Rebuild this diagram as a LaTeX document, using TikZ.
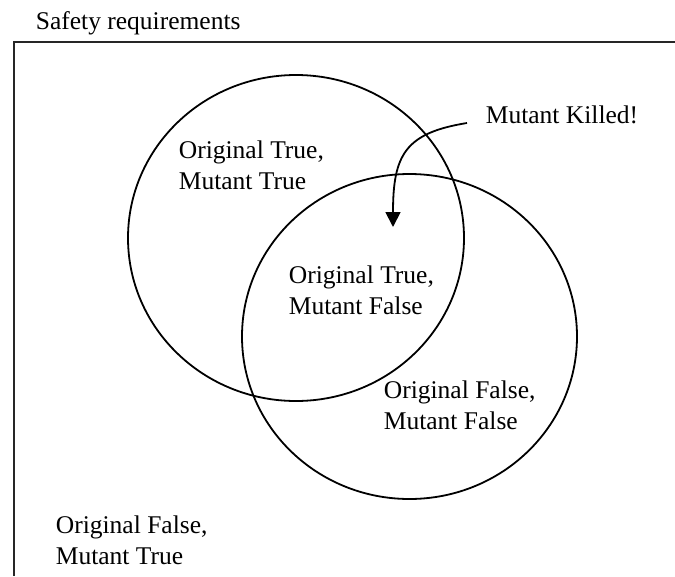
\documentclass[tikz,border=0pt]{standalone}
\usepackage{fontspec}
\setmainfont{Liberation Serif}
\usepackage{tikz}
\usetikzlibrary{arrows.meta}
\usepackage{xcolor}

\begin{document}
\begin{tikzpicture}[x=1pt, y=-1pt, >={Triangle[length=15pt,width=15pt]},
  region/.style={anchor=north west, inner sep=0pt, align=left,
    font=\fontsize{25.5}{30.5}\selectfont},
  line width=1.8pt]
\useasboundingbox (0,0) rectangle (675,576);
% frame of the safety requirements, cut by the page
\draw[black!85, line width=2.2pt] (14,576) -- (14,42) -- (675,42);
\node[region, anchor=base west] (title) at (35,29) {Safety requirements};
% the two sets
\draw (296,238) ellipse [x radius=168pt, y radius=163pt];
\draw (409.5,336.5) ellipse [x radius=167.5pt, y radius=162.5pt];
\node[region] (tt) at (178,140) {Original True,\\Mutant True};
\node[region] (tf) at (288,265) {Original True,\\Mutant False};
\node[region] (ff) at (383,380) {Original False,\\Mutant False};
\node[region] (ft) at (55,515) {Original False,\\Mutant True};
\node[region, anchor=base west] (killed) at (485,123) {Mutant Killed!};
\coordinate (tip) at (393,227);
\draw[->] ([xshift=-18pt]killed.base west) .. controls (405,133) and (393,155) .. (tip);
\end{tikzpicture}
\end{document}
